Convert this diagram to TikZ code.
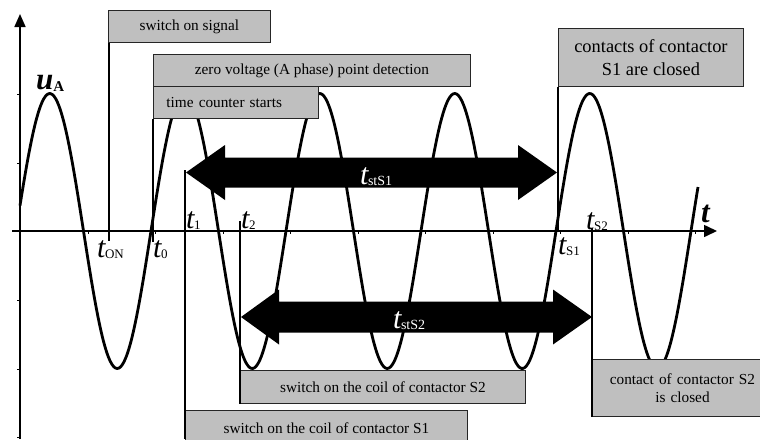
\documentclass[tikz,border=0pt]{standalone}
\usepackage{fontspec}
\setmainfont{Liberation Serif}
\usetikzlibrary{arrows.meta,calc}
\newcommand\tsub[2][13]{{\fontsize{30}{30}\selectfont\itshape t}\kern-0.5pt\raisebox{-1.5pt}{\fontsize{#1}{#1}\selectfont #2}}
\begin{document}
\begin{tikzpicture}[x=1pt,y=-1pt,
  box/.style={draw=black!85, line width=0.9pt, fill=gray!50, inner sep=0pt, anchor=north west,
    align=center, font=\fontsize{15.3}{18}\selectfont},
  lab/.style={inner sep=0pt, anchor=base west},
  axisline/.style={line width=1.6pt},
  thinv/.style={line width=1.4pt},
  thickv/.style={line width=2.6pt},
  wave/.style={line width=2.8pt, line join=round},
  bigarrow/.style={fill=black, draw=none},
  tick/.style={line width=1pt}]
\useasboundingbox (0,0) rectangle (760,439);
\clip (0,0) rectangle (760,439);
% sine wave
\draw[wave] plot[domain=20:698, samples=400, smooth] (\x, {231 - 137.5*sin(2.6666667*(\x-16))});
% axes
\coordinate (xs) at (12,231);
\coordinate (xe) at (717,231);
\coordinate (ys) at (20,439);
\coordinate (ye) at (20,14);
\draw[axisline,-{Triangle[length=13pt,width=12pt]}] (xs) -- (xe);
\draw[axisline,-{Triangle[length=13pt,width=11pt]}] (ys) -- (ye);
\foreach \k in {0,...,9} \draw[tick] ({88+67.5*\k},231) -- ++(0,3);
\foreach \yy in {94,163,300,369,437} \draw[tick] (20,\yy) -- ++(-3,0);
% boxes
\node[box, minimum width=162pt, minimum height=32pt] (bon) at (108,10) {switch on signal};
\node[box, minimum width=317pt, minimum height=32pt] (bzero) at (153,54) {zero voltage (A phase) point detection};
\node[box, text width=139pt, inner xsep=13pt, align=left, minimum height=32pt] (bcount) at (153,86) {time counter starts};
\node[box, minimum width=185pt, minimum height=58pt, font=\fontsize{18.4}{22.5}\selectfont] (bs1) at (558,28) {contacts of contactor\\S1 are closed};
\node[box, minimum width=285pt, minimum height=33pt] (bc2) at (240,370) {switch on the coil of contactor S2};
\node[box, minimum width=282pt, minimum height=36pt] (bc1) at (185,410) {\raisebox{-1pt}{switch on the coil of contactor S1}};
\node[box, minimum width=180pt, minimum height=57pt, text width=172pt] (bs2) at (592,359) {contact of contactor S2\\is closed};
% vertical marker lines
\coordinate (pON) at (109,241);
\coordinate (p0) at (153,242);
\coordinate (p1top) at (185,170);
\coordinate (p1bot) at (185,439);
\coordinate (p2top) at (240,221);
\coordinate (pS1) at (558,232);
\coordinate (pS2) at (592,228);
\draw[thickv] (bon.south west -| pON) -- (pON);
\draw[thickv] (bcount.south west -| p0) -- (p0);
\draw[thinv] (p1top) -- (p1bot);
\draw[thickv] (p2top) -- (bc2.south west -| p2top);
\draw[thinv] (bs1.south west) -- (pS1);
\draw[line width=1.8pt] (pS2) -- (bs2.south west);
% big double arrows
\coordinate (a1l) at (186,172.5);
\coordinate (a1r) at (557,172.5);
\fill[bigarrow] (a1l) -- ++(39,-27.5) -- ++(0,12.5) -- ($(a1r)+(-39,-15)$) -- ++(0,-12.5) -- (a1r) -- ++(-39,27.5) -- ++(0,-12.5) -- ($(a1l)+(39,15)$) -- ++(0,12.5) -- cycle;
\coordinate (a2l) at (241,317);
\coordinate (a2r) at (592,317);
\fill[bigarrow] (a2l) -- ++(38,-27.5) -- ++(0,12) -- ($(a2r)+(-39,-15.5)$) -- ++(0,-12) -- (a2r) -- ++(-39,27.5) -- ++(0,-12) -- ($(a2l)+(38,15.5)$) -- ++(0,12) -- cycle;
% labels
\node[lab, text=white] (lst1) at (360,184) {\tsub[14]{stS1}};
\node[lab, text=white] (lst2) at (393,328) {\tsub[14]{stS2}};
\node[lab] (lON) at (97,257) {\tsub{ON}};
\node[lab] (l0) at (153,257) {\tsub{0}};
\node[lab] (l1) at (186,228) {\tsub{1}};
\node[lab] (l2) at (241,228) {\tsub{2}};
\node[lab] (lS1) at (558,254) {\tsub{S1}};
\node[lab] (lS2) at (586,229) {\tsub{S2}};
\node[lab] (lt) at (701,222) {\fontsize{31}{31}\selectfont\bfseries\itshape t};
\node[lab] (lu) at (36,89) {{\fontsize{31}{31}\selectfont\bfseries\itshape u}\raisebox{-2pt}{\fontsize{15}{15}\selectfont\bfseries A}};
\end{tikzpicture}
\end{document}
